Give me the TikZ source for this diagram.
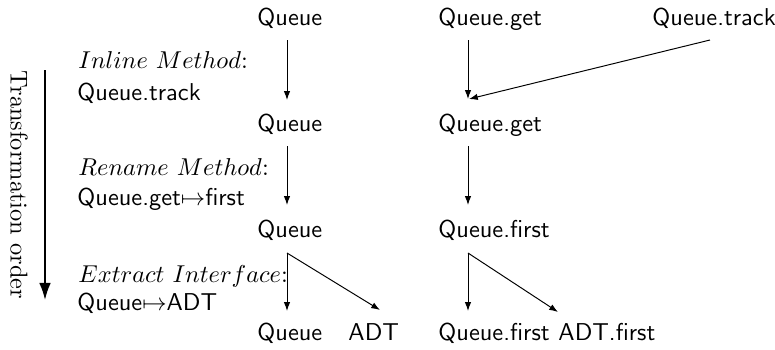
\documentclass[tikz,border=0pt]{standalone}
\usetikzlibrary{calc,arrows.meta}
\begin{document}
\begin{tikzpicture}[x=0.41pt,y=-0.41pt,
  ent/.style={anchor=base west,inner sep=0pt,font=\sffamily},
  lab/.style={anchor=base west,inner sep=0pt},
  conn/.style={line width=0.4pt,-{Latex[length=3.6pt,width=2.6pt]}},
  order/.style={line width=0.8pt,-{Latex[length=7pt,width=4.8pt]}}]
\useasboundingbox (0,0) rectangle (775,349);
% entities
\node[ent] (q1) at (257,25) {Queue};
\node[ent] (g1) at (438,25) {Queue.get};
\node[ent] (t1) at (652,25) {Queue.track};
\node[ent] (q2) at (257,131) {Queue};
\node[ent] (g2) at (438,131) {Queue.get};
\node[ent] (q3) at (257,237) {Queue};
\node[ent] (f3) at (438,237) {Queue.first};
\node[ent] (q4) at (257,340) {Queue};
\node[ent] (a4) at (348,340) {ADT};
\node[ent] (f4) at (438,340) {Queue.first};
\node[ent] (af4) at (558,340) {ADT.first};
% labels
\node[lab] (l1a) at (78,68) {$Inline\ Method$:};
\node[lab,font=\sffamily] (l1b) at (77,100) {Queue.track};
\node[lab] (l2a) at (78,175) {$Rename\ Method$:};
\node[lab,font=\sffamily] (l2b) at (77,205) {Queue.get$\mapsto$first};
\node[lab] (l3a) at (78,282) {$Extract\ Interface$:};
\node[lab,font=\sffamily] (l3b) at (77,310) {Queue$\mapsto$ADT};
% connectors
\draw[conn] ($(q1.base west)+(30,15)$) -- ($(q2.base west)+(30,-31)$);
\draw[conn] ($(g1.base west)+(30,15)$) -- ($(g2.base west)+(30,-32)$);
\draw[conn] ($(t1.base west)+(58,15)$) -- ($(g2.base west)+(31,-32)$);
\draw[conn] ($(q2.base west)+(30,15)$) -- ($(q3.base west)+(30,-32)$);
\draw[conn] ($(g2.base west)+(30,15)$) -- ($(f3.base west)+(30,-32)$);
\draw[conn] ($(q3.base west)+(30,16)$) -- ($(q4.base west)+(30,-29)$);
\draw[conn] ($(q3.base west)+(30,16)$) -- ($(a4.base west)+(32,-30)$);
\draw[conn] ($(f3.base west)+(30,16)$) -- ($(f4.base west)+(30,-29)$);
\draw[conn] ($(f3.base west)+(30,16)$) -- ($(af4.base west)+(0,-28)$);
% transformation order
\node[rotate=-90,inner sep=0pt] (to) at (19,185) {Transformation order};
\coordinate (os) at (45,70);
\coordinate (oe) at (45,300);
\draw[order] (os) -- (oe);
\end{tikzpicture}
\end{document}
